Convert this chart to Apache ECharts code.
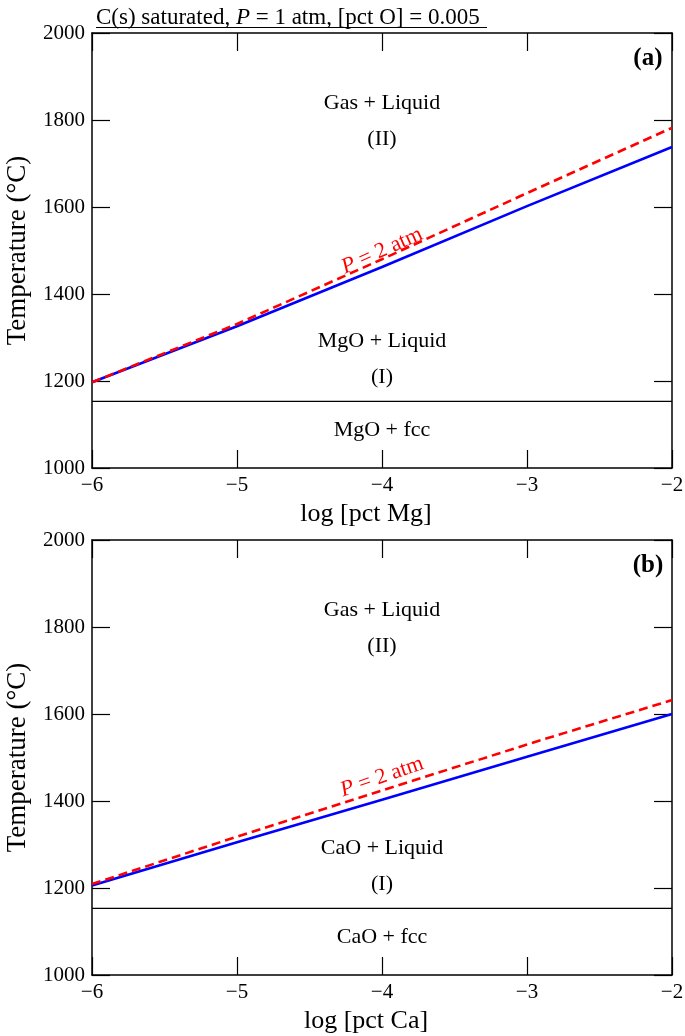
<!DOCTYPE html>
<html><head><meta charset="utf-8">
<script src="https://cdn.jsdelivr.net/npm/echarts@6/dist/echarts.min.js"></script>
<style>html,body{margin:0;padding:0;background:#fff}#c{width:685px;height:1036px}</style>
</head><body><div id="c"></div>
<script>
// ---- data ----
const logPct = [-6, -5, -4, -3, -2];          // x positions of curve samples
const xTickValues = [-6, -5, -4, -3, -2];
const yTickValues = [1000, 1200, 1400, 1600, 1800, 2000];
// Panel (a): Mg
const mgP1atm = [1197, 1326, 1462, 1602, 1738];
const mgP2atm = [1197, 1331, 1480, 1632, 1782];
const mgFccLine = 1153;
// Panel (b): Ca
const caP1atm = [1206, 1305, 1403, 1502, 1600];
const caP2atm = [1209, 1318, 1424, 1530, 1632];
const caFccLine = 1153;
// Region labels
const regionLabelsA = ['Gas + Liquid', '(II)', 'MgO + Liquid', '(I)', 'MgO + fcc'];
const regionLabelsB = ['Gas + Liquid', '(II)', 'CaO + Liquid', '(I)', 'CaO + fcc'];
const regionTemps = [1839, 1756, 1292, 1209, 1088];
const titleText = 'C(s) saturated, {i|P} = 1 atm, [pct O] = 0.005';

const FF = "'Liberation Serif', 'DejaVu Serif', serif";
const minus = v => String(v).replace('-', '\u2212');
const plain = v => String(v);

const chart = echarts.init(document.getElementById('c'));

const grids = [
  {left: 92, top: 33, width: 580, height: 435, containLabel: false, outerBoundsMode: 'none'},
  {left: 92, top: 540, width: 580, height: 435, containLabel: false, outerBoundsMode: 'none'}
];

function xAxes(gi, name) {
  const base = {
    gridIndex: gi, type: 'value', min: -6, max: -2, interval: 1,
    axisLine: {onZero: false, lineStyle: {color: '#000', width: 1.5}},
    axisTick: {inside: true, length: 18, lineStyle: {color: '#000', width: 1.2}},
    splitLine: {show: false}
  };
  return [
    Object.assign({}, base, {
      position: 'bottom',
      axisLabel: {color: '#000', fontSize: 21, fontFamily: FF, margin: 7, formatter: minus},
      name: name, nameLocation: 'middle', nameGap: 33,
      nameTextStyle: {color: '#000', fontSize: 26, fontFamily: FF, padding: [0, 32, 0, 0]}
    }),
    Object.assign({}, base, {position: 'top', axisLabel: {show: false}})
  ];
}
function yAxes(gi) {
  const base = {
    gridIndex: gi, type: 'value', min: 1000, max: 2000, interval: 200,
    axisLine: {onZero: false, lineStyle: {color: '#000', width: 1.5}},
    axisTick: {inside: true, length: 18, lineStyle: {color: '#000', width: 1.2}},
    splitLine: {show: false}
  };
  return [
    Object.assign({}, base, {
      position: 'left',
      axisLabel: {color: '#000', fontSize: 21, fontFamily: FF, margin: 7, formatter: plain},
      name: 'Temperature (°C)', nameLocation: 'middle', nameGap: 61, nameRotate: 90,
      nameTextStyle: {color: '#000', fontSize: 27, fontFamily: FF}
    }),
    Object.assign({}, base, {position: 'right', axisLabel: {show: false}})
  ];
}

function pairs(xs, ys) { return xs.map((x, i) => [x, ys[i]]); }

function panelSeries(gi, p1, p2, fcc, regionLabels, tag, pRot, pTemp) {
  const xi = gi * 2, yi = gi * 2;
  const annotations = regionLabels.map((t, i) => ({name: t, value: [-4, regionTemps[i]]}));
  const annoBase = {type: 'scatter', xAxisIndex: xi, yAxisIndex: yi, symbolSize: 0, silent: true, z: 5,
    itemStyle: {opacity: 1}};
  return [
    {type: 'line', xAxisIndex: xi, yAxisIndex: yi, data: [[-6, fcc], [-2, fcc]], symbol: 'none',
     lineStyle: {color: '#000', width: 1.2}, silent: true, z: 2},
    {type: 'line', xAxisIndex: xi, yAxisIndex: yi, data: pairs(logPct, p1), symbol: 'none',
     lineStyle: {color: '#0000ff', width: 2.6}, z: 3},
    {type: 'line', xAxisIndex: xi, yAxisIndex: yi, data: pairs(logPct, p2), symbol: 'none',
     lineStyle: {color: '#ff0000', width: 2.6, type: [9, 5]}, z: 4},
    Object.assign({}, annoBase, {
     data: annotations,
     label: {show: true, position: 'inside', formatter: p => p.name, color: '#000', fontSize: 22, fontFamily: FF}}),
    Object.assign({}, annoBase, {
     data: [{name: tag, value: [-2.166, 1942]}],
     label: {show: true, position: 'inside', formatter: p => p.name, color: '#000', fontSize: 25, fontWeight: 'bold', fontFamily: FF}}),
    Object.assign({}, annoBase, {
     data: [{name: 'P', value: [-4.0, pTemp]}],
     label: {show: true, position: 'inside', rotate: pRot, formatter: '{i|P} = 2 atm', color: '#ff0000', fontSize: 22, fontFamily: FF,
       rich: {i: {fontStyle: 'italic', color: '#ff0000', fontSize: 22, fontFamily: FF}}}})
  ];
}

const option = {
  backgroundColor: '#fff',
  animation: false,
  title: {
    text: titleText, left: 91, top: 1,
    textStyle: {color: '#000', fontSize: 23, fontWeight: 'normal', fontFamily: FF,
      rich: {i: {fontStyle: 'italic', color: '#000', fontSize: 23, fontFamily: FF}}}
  },
  graphic: [{type: 'line', shape: {x1: 96, y1: 27.5, x2: 487, y2: 27.5}, style: {stroke: '#000', lineWidth: 1.2}}],
  grid: grids,
  xAxis: [...xAxes(0, 'log [pct Mg]'), ...xAxes(1, 'log [pct Ca]')],
  yAxis: [...yAxes(0), ...yAxes(1)],
  series: [
    ...panelSeries(0, mgP1atm, mgP2atm, mgFccLine, regionLabelsA, '(a)', 24, 1499),
    ...panelSeries(1, caP1atm, caP2atm, caFccLine, regionLabelsB, '(b)', 19, 1455)
  ]
};
chart.setOption(option);
</script></body></html>
